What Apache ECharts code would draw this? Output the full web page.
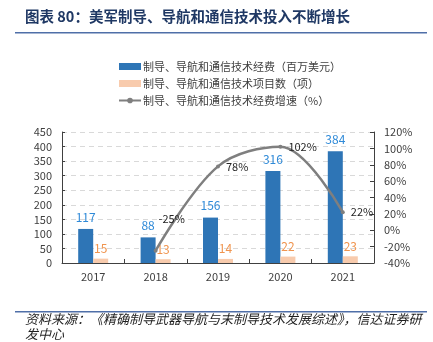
<!DOCTYPE html>
<html>
<head>
<meta charset="utf-8">
<script src="https://cdn.jsdelivr.net/npm/echarts@6/dist/echarts.min.js"></script>
<style>
html,body{margin:0;padding:0;background:#fff;}
#chart{width:433px;height:342px;}
</style>
</head>
<body>
<div id="chart"></div>
<script>
// Categories and series
const years = ['2017', '2018', '2019', '2020', '2021'];
const spending = [117, 88, 156, 316, 384];          // 经费（百万美元）
const projects = [15, 13, 14, 22, 23];              // 项目数（项）
const growth = [null, -25, 78, 102, 22];            // 经费增速（%）

const seriesNames = [
  '制导、导航和通信技术经费（百万美元）',
  '制导、导航和通信技术项目数（项）',
  '制导、导航和通信技术经费增速（%）'
];

const titleText = '图表 80：美军制导、导航和通信技术投入不断增长';
const sourceText = '资料来源：《精确制导武器导航与末制导技术发展综述》，信达证券研';
const sourceText2 = '发中心';

const FONT = '"Noto Sans CJK SC", "Liberation Sans", Arial, sans-serif';
const AXIS_TEXT = '#404040';

const chart = echarts.init(document.getElementById('chart'), null, {renderer: 'canvas'});

chart.setOption({
  backgroundColor: '#ffffff',
  animation: false,
  textStyle: {fontFamily: FONT},
  graphic: [
    {type: 'text', left: 25, top: 9,
      style: {text: titleText, font: 'bold 14.5px ' + FONT, fill: '#1F3864'}},
    {type: 'rect', shape: {x: 15, y: 32, width: 412, height: 1.5}, style: {fill: '#4F6FA8'}},
    {type: 'rect', shape: {x: 15, y: 311, width: 412, height: 1.5}, style: {fill: '#4F6FA8'}},
    {type: 'text', left: 25, top: 313,
      style: {text: sourceText, font: 'italic 13px ' + FONT, fill: '#1F1F1F'}},
    {type: 'text', left: 25, top: 328,
      style: {text: sourceText2, font: 'italic 13px ' + FONT, fill: '#1F1F1F'}}
  ],
  legend: {
    orient: 'vertical',
    left: 113,
    top: 56,
    itemWidth: 22,
    itemHeight: 7,
    itemGap: 6,
    textStyle: {fontSize: 11, color: AXIS_TEXT, fontFamily: FONT, padding: [0, 0, 0, -3]},
    data: [
      {name: seriesNames[0], icon: 'rect'},
      {name: seriesNames[1], icon: 'rect'},
      {name: seriesNames[2]}
    ]
  },
  grid: {left: 62, right: 59, top: 132, bottom: 79, containLabel: false},
  xAxis: {
    type: 'category',
    data: years,
    axisLine: {lineStyle: {color: '#404040', width: 1}},
    axisTick: {show: true, inside: true, length: 4, lineStyle: {color: '#404040'}},
    axisLabel: {fontSize: 11, color: AXIS_TEXT, margin: 8}
  },
  yAxis: [
    {
      type: 'value', min: 0, max: 450, interval: 50,
      axisLine: {show: true, lineStyle: {color: '#404040'}},
      axisTick: {show: true, inside: true, length: 3, lineStyle: {color: '#404040'}},
      axisLabel: {fontSize: 11, color: AXIS_TEXT, margin: 10},
      splitLine: {show: true, lineStyle: {color: '#D9D9D9', type: [5, 4]}}
    },
    {
      type: 'value', min: -40, max: 120, interval: 20,
      position: 'right',
      axisLine: {show: true, lineStyle: {color: '#404040'}},
      axisTick: {show: true, inside: true, length: 4, lineStyle: {color: '#404040'}},
      axisLabel: {fontSize: 11, color: AXIS_TEXT, margin: 10, formatter: '{value}%'},
      splitLine: {show: false}
    }
  ],
  series: [
    {
      name: seriesNames[0], type: 'bar', yAxisIndex: 0,
      data: spending, barWidth: 15, barGap: '0%',
      itemStyle: {color: '#2E75B6'},
      label: {show: true, position: 'top', distance: 6, color: '#2F8AD8', fontSize: 12}
    },
    {
      name: seriesNames[1], type: 'bar', yAxisIndex: 0,
      data: projects, barWidth: 15,
      itemStyle: {color: '#F8CBAD'},
      label: {show: true, position: 'top', distance: 4, color: '#F0944E', fontSize: 12}
    },
    {
      name: seriesNames[2], type: 'line', yAxisIndex: 1,
      data: growth, smooth: 0.35, connectNulls: false,
      symbol: 'circle', symbolSize: 4, showSymbol: true,
      lineStyle: {color: '#7F7F7F', width: 2.5},
      itemStyle: {color: '#7F7F7F'},
      label: {
        show: true, position: 'right', distance: 6, color: '#262626', fontSize: 11,
        formatter: p => p.value == null ? '' : p.value + '%'
      },
      labelLayout: function (params) {
        if (params.dataIndex === 1) {
          return {dx: -5, dy: -32};
        }
        return {};
      }
    }
  ]
});
</script>
</body>
</html>
